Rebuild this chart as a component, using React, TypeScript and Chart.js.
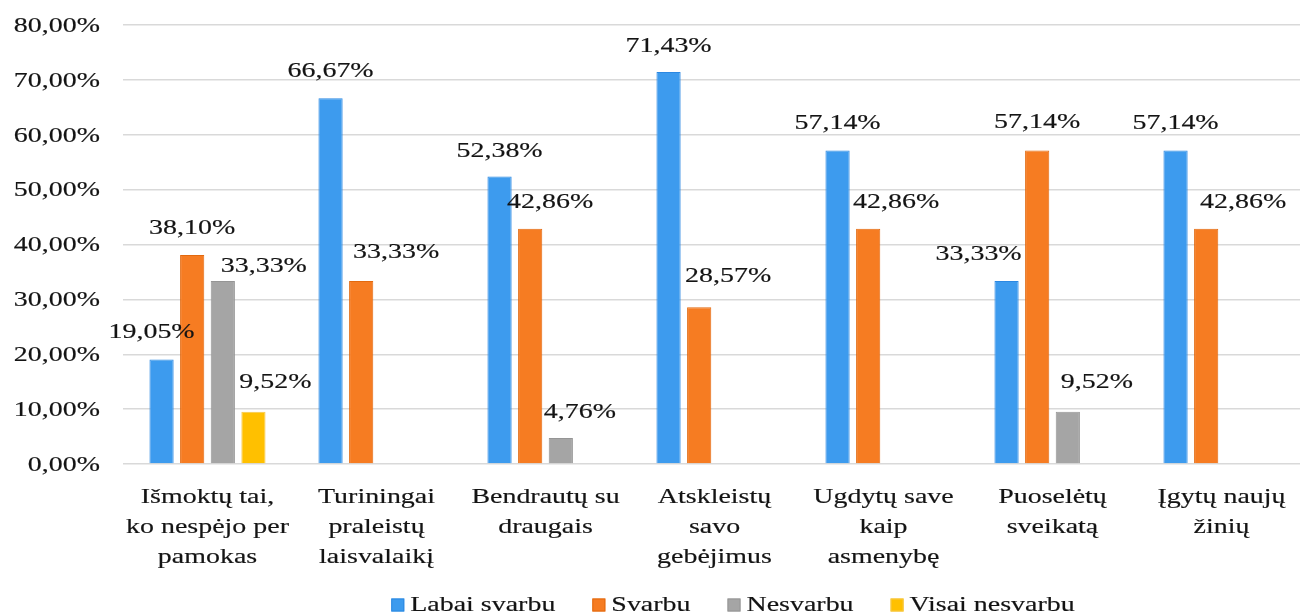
import React, { useEffect, useRef } from "react";
import { Chart, registerables } from "chart.js";

Chart.register(...registerables);

// ---- data ----
const categories: string[][] = [
  ["Išmoktų tai,", "ko nespėjo per", "pamokas"],
  ["Turiningai", "praleistų", "laisvalaikį"],
  ["Bendrautų su", "draugais"],
  ["Atskleistų", "savo", "gebėjimus"],
  ["Ugdytų save", "kaip", "asmenybę"],
  ["Puoselėtų", "sveikatą"],
  ["Įgytų naujų", "žinių"],
];
const seriesNames = ["Labai svarbu", "Svarbu", "Nesvarbu", "Visai nesvarbu"];
const labaiSvarbu = [19.05, 66.67, 52.38, 71.43, 57.14, 33.33, 57.14];
const svarbu = [38.1, 33.33, 42.86, 28.57, 42.86, 57.14, 42.86];
const nesvarbu = [33.33, 0, 4.76, 0, 0, 9.52, 0];
const visaiNesvarbu = [9.52, 0, 0, 0, 0, 0, 0];
const yTicks = [0, 10, 20, 30, 40, 50, 60, 70, 80];

// ---- styles ----
const fills = ["#3d9bee", "#f67c22", "#a5a5a5", "#ffc000"];
const borders = ["#2b88e2", "#e2690f", "#959595", "#f5c84a"];
// label offsets (px) relative to the default "above bar, centred" position
const labelDx = [
  [-10, 0, 0, 0, 0, -28, 0],
  [0, 35, 20, 29, 28, 0, 37],
  [41, 0, 19, 0, 0, 29, 0],
  [22, 0, 0, 0, 0, 0, 0],
];
const labelDy = [
  [0, 0, 2, 1, 0, 0, 0],
  [0, -2, 0, -4, 0, -1, 0],
  [12, 0, 1, 0, 0, -3, 0],
  [-3, 0, 0, 0, 0, 0, 0],
];

const FONT = '22px "Liberation Serif", "Times New Roman", serif';
const SX = 1.27;
const TEXT = "#141414";

const fmt = (v: number) => v.toFixed(2).replace(".", ",") + "%";

function drawText(
  ctx: CanvasRenderingContext2D,
  text: string,
  x: number,
  y: number,
  align: "left" | "center" | "right"
) {
  const w = ctx.measureText(text).width * SX;
  const x0 = align === "left" ? x : align === "center" ? x - w / 2 : x - w;
  ctx.save();
  ctx.translate(x0, y);
  ctx.scale(SX, 1);
  ctx.textAlign = "left";
  ctx.textBaseline = "middle";
  ctx.fillStyle = TEXT;
  ctx.strokeStyle = TEXT;
  ctx.lineWidth = 0.18;
  ctx.fillText(text, 0, 0);
  ctx.strokeText(text, 0, 0);
  ctx.restore();
}

const textPlugin = {
  id: "textPlugin",
  afterDraw(chart: any) {
    const ctx: CanvasRenderingContext2D = chart.ctx;
    const xs = chart.scales.x;
    const ys = chart.scales.y;
    ctx.save();
    ctx.font = FONT;

    // y tick labels
    yTicks.forEach((t) => {
      drawText(ctx, fmt(t), 100, ys.getPixelForValue(t) + 1, "right");
    });

    // x category labels
    categories.forEach((lines, i) => {
      const cx = xs.getPixelForValue(i);
      lines.forEach((ln, j) => {
        drawText(ctx, ln, cx, 497 + j * 30, "center");
      });
    });

    // data labels
    chart.data.datasets.forEach((ds: any, di: number) => {
      const meta = chart.getDatasetMeta(di);
      meta.data.forEach((bar: any, i: number) => {
        const v = ds.data[i];
        if (!v) return;
        const x = bar.x + labelDx[di][i];
        const y = bar.y - 27 + labelDy[di][i];
        drawText(ctx, fmt(v), x, y, "center");
      });
    });

    // legend
    const sq = 13;
    const gapAfterSq = 6;
    const gapItems = 37;
    const widths = seriesNames.map((n) => ctx.measureText(n).width * SX);
    const total =
      widths.reduce((a, b) => a + b, 0) +
      seriesNames.length * (sq + gapAfterSq) +
      (seriesNames.length - 1) * gapItems;
    let lx = 733 - total / 2;
    const ly = 605;
    seriesNames.forEach((n, k) => {
      ctx.fillStyle = fills[k];
      ctx.fillRect(lx, ly - sq / 2, sq, sq);
      ctx.strokeStyle = borders[k];
      ctx.lineWidth = 1;
      ctx.strokeRect(lx + 0.5, ly - sq / 2 + 0.5, sq - 1, sq - 1);
      lx += sq + gapAfterSq;
      drawText(ctx, n, lx, ly, "left");
      lx += widths[k] + gapItems;
    });
    ctx.restore();
  },
};

export default function App() {
  const ref = useRef<HTMLCanvasElement | null>(null);

  useEffect(() => {
    if (!ref.current) return;
    const seriesData = [labaiSvarbu, svarbu, nesvarbu, visaiNesvarbu];
    const chart = new Chart(ref.current, {
      type: "bar",
      data: {
        labels: categories.map((c) => c.join(" ")),
        datasets: seriesData.map((d, k) => ({
          label: seriesNames[k],
          data: d,
          backgroundColor: fills[k],
          borderColor: borders[k],
          borderWidth: 1,
          barPercentage: 0.79,
          categoryPercentage: 0.725,
        })),
      },
      options: {
        animation: false,
        responsive: false,
        devicePixelRatio: 1,
        layout: { padding: { top: 25, right: 0, left: 0, bottom: 0 } },
        plugins: {
          legend: { display: false },
          tooltip: { enabled: false },
          title: { display: false },
        },
        scales: {
          x: {
            type: "category",
            grid: { display: false, drawTicks: false },
            border: { display: false },
            ticks: { display: false },
            afterFit: (s: any) => {
              s.height = 152;
            },
          },
          y: {
            type: "linear",
            min: 0,
            max: 80,
            ticks: { display: false, stepSize: 10 },
            grid: { color: "#d9d9d9", lineWidth: 1.5, drawTicks: false },
            border: { display: false },
            afterFit: (s: any) => {
              s.width = 123;
            },
          },
        },
      },
      plugins: [textPlugin],
    });
    return () => chart.destroy();
  }, []);

  return (
    <div
      style={{
        position: "absolute",
        left: 0,
        top: 0,
        width: 1300,
        height: 616,
        overflow: "hidden",
        background: "#ffffff",
      }}
    >
      <canvas ref={ref} width={1306} height={616} style={{ width: 1306, height: 616, display: "block" }} />
    </div>
  );
}
